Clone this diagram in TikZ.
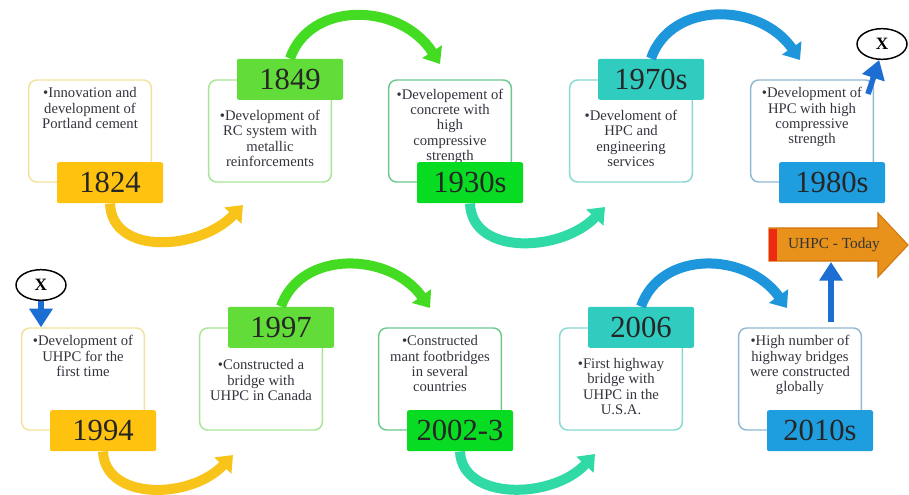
\documentclass[tikz,border=0pt]{standalone}
\usepackage{fontspec}
\setmainfont{Liberation Serif}
\usepackage{tikz}
\usetikzlibrary{arrows.meta,shapes.geometric}
\definecolor{tagY}{HTML}{FFC20E}
\definecolor{tagG}{HTML}{62DC38}
\definecolor{tagL}{HTML}{08DC22}
\definecolor{tagT}{HTML}{30CCC0}
\definecolor{tagB}{HTML}{1E9EDE}
\definecolor{bdY}{HTML}{F3E29C}
\definecolor{bdG}{HTML}{A6E696}
\definecolor{bdL}{HTML}{6CC98C}
\definecolor{bdT}{HTML}{86DAD2}
\definecolor{bdB}{HTML}{92B9D2}
\definecolor{arcY}{HTML}{F8C419}
\definecolor{arcG}{HTML}{44DC22}
\definecolor{arcT}{HTML}{30DAA6}
\definecolor{arcB}{HTML}{1E96DC}
\definecolor{arrB}{HTML}{1C6ED2}
\definecolor{orgF}{HTML}{E8921C}
\definecolor{orgD}{HTML}{D2760E}
\definecolor{redS}{HTML}{EE2A12}
\definecolor{txtC}{HTML}{34343F}
\tikzset{
  frm/.style={draw=#1,line width=1.1pt,rounded corners=6pt,fill=white,minimum width=92pt,minimum height=76.5pt,inner sep=0pt},
  txt/.style={align=center,inner sep=0pt,anchor=north,text=txtC,font=\fontsize{11}{11.5}\selectfont},
  yr/.style={fill=#1,rounded corners=1.5pt,minimum width=79.5pt,minimum height=30.75pt,inner sep=0pt,text=black!85,font=\fontsize{23}{23}\selectfont},
  swoop/.style={draw=#1,line width=7.5pt,-{Triangle[length=11pt,width=17pt]}},
  bl/.style={draw=arrB,line width=4.2pt,-{Triangle[length=14pt,width=17pt]}},
  xx/.style={ellipse,draw,line width=1.1pt,minimum width=37.5pt,minimum height=23pt,inner sep=0pt,font=\bfseries\fontsize{13}{13}\selectfont}
}
\newcommand{\yearbox}[8]{%
  \node[frm=#3] (b#1) at (#2) {};
  \node[txt] (t#1) at ([yshift=#4]b#1.north) {#5};
  \node[yr=#7] (y#1) at ([xshift=15pt]b#1.#6) {#8};}

\begin{document}
\begin{tikzpicture}[x=0.75pt,y=-0.75pt]
\path[fill=white,use as bounding box] (0,0) rectangle (909,494);
\yearbox{1}{90,131}{bdY}{-6pt}{•Innovation and\\development of\\Portland cement}{south}{tagY}{1824}
\yearbox{2}{270,131}{bdG}{-23pt}{•Development of\\RC system with\\metallic\\reinforcements}{north}{tagG}{1849}
\yearbox{3}{450,131}{bdL}{-7pt}{•Developement of\\concrete with\\high\\compressive\\strength}{south}{tagL}{1930s}
\yearbox{4}{631,131}{bdT}{-23pt}{•Develoment of\\HPC and\\engineering\\services}{north}{tagT}{1970s}
\yearbox{5}{812,131}{bdB}{-6pt}{•Development of\\HPC with high\\compressive\\strength}{south}{tagB}{1980s}
\yearbox{6}{83,379}{bdY}{-6pt}{•Development of\\UHPC for the\\first time}{south}{tagY}{1994}
\yearbox{7}{261,379}{bdG}{-24pt}{•Constructed a\\bridge with\\UHPC in Canada}{north}{tagG}{1997}
\yearbox{8}{440,379}{bdL}{-6pt}{•Constructed\\mant footbridges\\in several\\countries}{south}{tagL}{2002-3}
\yearbox{9}{621,379}{bdT}{-23pt}{•First highway\\bridge with\\UHPC in the\\U.S.A.}{north}{tagT}{2006}
\yearbox{10}{800,379}{bdB}{-6pt}{•High number of\\highway bridges\\were constructed\\globally}{south}{tagB}{2010s}

\coordinate (a1) at (243,205); \coordinate (a2) at (440,64);
\coordinate (a3) at (605,207); \coordinate (a4) at (800,60);
\coordinate (a5) at (233,455); \coordinate (a6) at (430,308);
\coordinate (a7) at (595,454); \coordinate (a8) at (787,308);
\draw[swoop=arcY] (y1.south) .. controls +(2,53) and +(-43,45) .. (a1);
\draw[swoop=arcG] (y2.north) .. controls +(20,-58) and +(-40,-62) .. (a2);
\draw[swoop=arcT] (y3.south) .. controls +(2,53) and +(-43,45) .. (a3);
\draw[swoop=arcB] (y4.north) .. controls +(20,-58) and +(-40,-58) .. (a4);
\draw[swoop=arcY] (y6.south) .. controls +(2,49) and +(-43,45) .. (a5);
\draw[swoop=arcG] (y7.north) .. controls +(20,-57) and +(-40,-56) .. (a6);
\draw[swoop=arcT] (y8.south) .. controls +(2,49) and +(-43,46) .. (a7);
\draw[swoop=arcB] (y9.north) .. controls +(20,-57) and +(-40,-56) .. (a8);

\node[xx] (x1) at (882,44) {X};
\node[xx] (x2) at (41,285) {X};
\coordinate (s1) at (868,94); \draw[bl] (s1) -- (x1.-100);
\draw[bl] (x2.south) -- (x2.south |- b6.north);

\fill[orgF,draw=orgD,line width=0.8pt] (769,228) -- (878,228) -- (878,213) -- (908,245) -- (878,277) -- (878,261) -- (769,261) -- cycle;
\fill[redS] (769,228.5) rectangle (777,260.5);
\node[text=black!80,font=\fontsize{11.5}{11.5}\selectfont] (uh) at (834,245) {UHPC - Today};
\coordinate (s2) at (831,322); \coordinate (ub) at (831,262);
\draw[bl] (s2) -- (ub);
\end{tikzpicture}
\end{document}
